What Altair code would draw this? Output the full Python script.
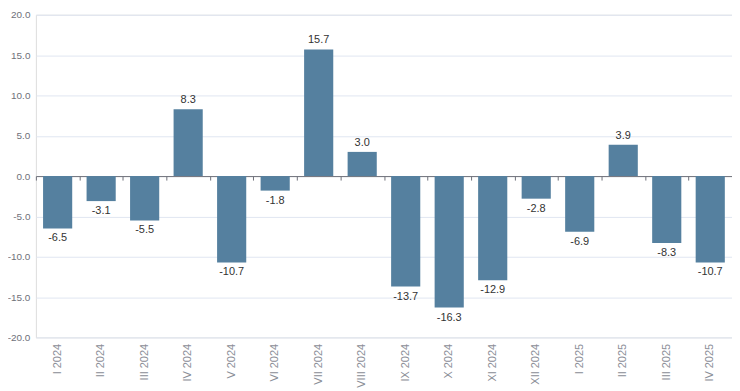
import altair as alt
import pandas as pd

categories = ["I 2024", "II 2024", "III 2024", "IV 2024", "V 2024", "VI 2024",
              "VII 2024", "VIII 2024", "IX 2024", "X 2024", "XI 2024", "XII 2024",
              "I 2025", "II 2025", "III 2025", "IV 2025"]
values = [-6.5, -3.1, -5.5, 8.3, -10.7, -1.8, 15.7, 3.0, -13.7, -16.3, -12.9, -2.8,
          -6.9, 3.9, -8.3, -10.7]
y_ticks = [-20, -15, -10, -5, 0, 5, 10, 15, 20]

df = pd.DataFrame({"cat": categories, "val": values})

FONT = "Liberation Sans"
W, H = 699, 324
MINUS_FIX = "replace(format({v}, '.1f'), '\u2212', '-')"

xscale = alt.Scale(paddingInner=0, paddingOuter=0)
yscale = alt.Scale(domain=[-20, 20], nice=False)

x_main = alt.X("cat:N", sort=categories, scale=xscale, title=None,
               axis=alt.Axis(orient="bottom", labelAngle=-90, ticks=False, domain=False,
                             labelColor="#8a8d96", labelFont=FONT, labelFontSize=11,
                             labelPadding=6, grid=False))
y_main = alt.Y("val:Q", scale=yscale, title=None,
               axis=alt.Axis(values=y_ticks, labelExpr=MINUS_FIX.format(v="datum.value"),
                             domain=False, ticks=False,
                             labelColor="#6e7079", labelFont=FONT, labelFontSize=10,
                             labelPadding=6, gridColor="#e0e6f1", gridWidth=1))

bars = alt.Chart(df).mark_bar(color="#55809f", width=alt.RelativeBandSize(0.67)).encode(
    x=x_main, y=y_main)

x_plain = alt.X("cat:N", sort=categories, scale=xscale, title=None, axis=None)

base_text = alt.Chart(df).transform_calculate(lab=MINUS_FIX.format(v="datum.val"))
pos_text = base_text.transform_filter("datum.val >= 0").mark_text(
    baseline="bottom", dy=-4, font=FONT, fontSize=11, color="#333333").encode(
    x=x_plain, y=y_main, text="lab:N")
neg_text = base_text.transform_filter("datum.val < 0").mark_text(
    baseline="top", dy=4, font=FONT, fontSize=11, color="#333333").encode(
    x=x_plain, y=y_main, text="lab:N")

zero_axis = alt.Chart(df).mark_bar(opacity=0).encode(
    x=alt.X("cat:N", sort=categories, scale=xscale, title=None,
            axis=alt.Axis(orient="bottom", offset=-H / 2, labels=False, domain=True,
                          domainColor="#6e7079", ticks=True, tickColor="#6e7079",
                          tickSize=4, tickBand="extent", grid=False)),
    y=y_main)

chart = alt.layer(bars, zero_axis, pos_text, neg_text).resolve_axis(
    x="independent").properties(
    width=W, height=H,
    autosize=alt.AutoSizeParams(type="none"),
    padding={"left": 28, "top": 6, "right": 0, "bottom": 50},
).configure_view(strokeWidth=0, stroke="transparent").configure(background="white")

chart.save("out.html", embed_options={"renderer": "svg", "actions": False})
